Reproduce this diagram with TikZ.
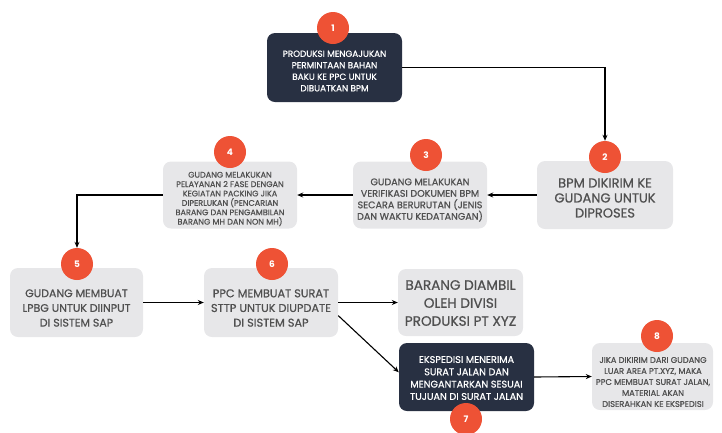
\documentclass[tikz,border=0pt]{standalone}
\usepackage{fontspec}
\setmainfont{Poppins}
\newfontfamily\boxfont{Poppins}[FakeBold=0.7]
\usetikzlibrary{arrows.meta}

\definecolor{navy}{HTML}{283042}
\definecolor{boxgray}{HTML}{E7E7E9}
\definecolor{numred}{HTML}{EE5235}
\definecolor{txtgray}{HTML}{505050}

\begin{document}
\begin{tikzpicture}[x = 1pt, y = -1pt,
	darkbox/.style = {fill = navy, rounded corners = 8pt, inner sep = 0pt},
	graybox/.style = {fill = boxgray, rounded corners = 8pt, inner sep = 0pt},
	darktext/.style = {text = white, align = center, inner sep = 0pt},
	graytext/.style = {text = txtgray, align = center, inner sep = 0pt},
	num/.style = {circle, fill = numred, text = white, minimum size = 32pt, inner sep = 0pt, font = \bfseries\fontsize{9}{9}\selectfont},
	flow/.style = {line width = 1.1pt, -{Stealth[length = 6pt, width = 5pt]}}]
	\useasboundingbox (0, 0) rectangle (722, 432);
	
	\node[darkbox, minimum width = 135pt, minimum height = 69pt] (b1) at (334.5, 67.5) {};
	\node[graybox, minimum width = 136pt, minimum height = 68pt] (b2) at (605, 195) {};
	\node[graybox, minimum width = 134pt, minimum height = 67pt] (b3) at (420, 195) {};
	\node[graybox, minimum width = 134pt, minimum height = 67pt] (b4) at (230, 195) {};
	\node[graybox, minimum width = 133pt, minimum height = 69pt] (b5) at (76.5, 302.5) {};
	\node[graybox, minimum width = 134pt, minimum height = 69pt] (b6) at (271, 302.5) {};
	\node[graybox, minimum width = 125pt, minimum height = 67pt] (ambil) at (460.5, 302.5) {};
	\node[darkbox, minimum width = 135pt, minimum height = 68pt] (b7) at (466.5, 377) {};
	\node[graybox, minimum width = 121pt, minimum height = 67pt] (b8) at (652.5, 376.5) {};
	
	\node[darktext, font = \boxfont\fontsize{8.8}{11.5}\selectfont] (t1) at (334.5, 71) {PRODUKSI MENGAJUKAN\\PERMINTAAN BAHAN\\BAKU KE PPC UNTUK\\DIBUATKAN BPM};
	\node[graytext, font = \boxfont\fontsize{13}{15}\selectfont] (t2) at (605, 198) {BPM DIKIRIM KE\\GUDANG UNTUK\\DIPROSES};
	\node[graytext, font = \boxfont\fontsize{9.6}{11.5}\selectfont] (t3) at (420, 200) {GUDANG MELAKUKAN\\VERIFIKASI DOKUMEN BPM\\SECARA BERURUTAN (JENIS\\DAN WAKTU KEDATANGAN)};
	\node[graytext, font = \boxfont\fontsize{8.1}{9.4}\selectfont] (t4) at (230, 199) {GUDANG MELAKUKAN\\PELAYANAN 2 FASE DENGAN\\KEGIATAN PACKING JIKA\\DIPERLUKAN (PENCARIAN\\BARANG DAN PENGAMBILAN\\BARANG MH DAN NON MH)};
	\node[graytext, font = \boxfont\fontsize{11}{14.7}\selectfont] (t5) at (76.5, 308) {GUDANG MEMBUAT\\LPBG UNTUK DIINPUT\\DI SISTEM SAP};
	\node[graytext, font = \boxfont\fontsize{11.3}{14.7}\selectfont] (t6) at (271, 308) {PPC MEMBUAT SURAT\\STTP UNTUK DIUPDATE\\DI SISTEM SAP};
	\node[graytext, font = \boxfont\fontsize{13.6}{18}\selectfont] (tambil) at (460.5, 303) {BARANG DIAMBIL\\OLEH DIVISI\\PRODUKSI PT XYZ};
	\node[darktext, font = \boxfont\fontsize{9.7}{12.3}\selectfont] (t7) at (466.5, 378) {EKSPEDISI MENERIMA\\SURAT JALAN DAN\\MENGANTARKAN SESUAI\\TUJUAN DI SURAT JALAN};
	\node[graytext, font = \boxfont\fontsize{8.3}{11}\selectfont] (t8) at (653, 382) {JIKA DIKIRIM DARI GUDANG\\LUAR AREA PT.XYZ, MAKA\\PPC MEMBUAT SURAT JALAN,\\MATERIAL AKAN\\DISERAHKAN KE EKSPEDISI};
	
	\node[num] (c1) at (333, 28) {1};
	\node[num] (c2) at (605, 157) {2};
	\node[num] (c3) at (426, 155) {3};
	\node[num] (c4) at (230, 152) {4};
	\node[num] (c5) at (77, 264) {5};
	\node[num] (c6) at (272, 264) {6};
	\node[num] (c7) at (466, 419) {7};
	\node[num] (c8) at (657, 336) {8};
	
	\draw[flow] (b1.east) -| (c2.north);
	\draw[flow] (b2.west) -- (b3.east);
	\draw[flow] (b3.west) -- (b4.east);
	\draw[flow] (b4.west) -| (c5.north);
	\draw[flow] (b5.east) -- (b6.west);
	\draw[flow] (b6.east) -- (ambil.west);
	\draw[flow] (b6.-11) -- (b7.176);
	\draw[flow] (b7.east) -- (b8.west);
\end{tikzpicture}
\end{document}
